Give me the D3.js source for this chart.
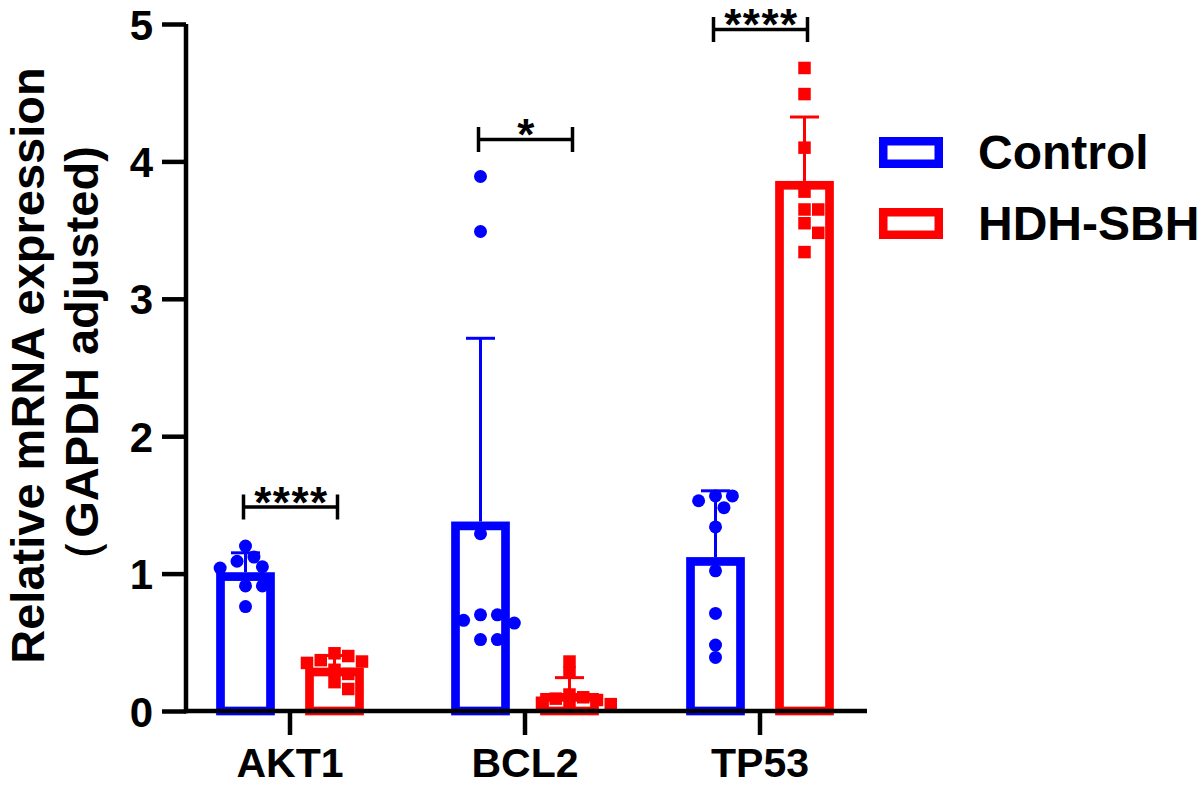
<!DOCTYPE html>
<html>
<head>
<meta charset="utf-8">
<script src="https://cdn.jsdelivr.net/npm/d3@7"></script>
<style>
  html, body { margin: 0; padding: 0; background: #fff; }
  svg { display: block; }
  text { font-family: "Liberation Sans", Arial, Helvetica, sans-serif; font-weight: bold; fill: #000; }
</style>
</head>
<body>
<svg id="chart" width="1203" height="787"></svg>
<script>
// ---------- data ----------
const categories = ["AKT1", "BCL2", "TP53"];
const seriesNames = ["Control", "HDH-SBH"];
const controlValues = [
  [1.20, 1.12, 1.09, 1.05, 1.04, 0.91, 0.91, 0.76],
  [3.89, 3.49, 1.29, 0.70, 0.70, 0.66, 0.64, 0.52, 0.52],
  [1.565, 1.565, 1.53, 1.48, 1.34, 1.02, 0.71, 0.48, 0.39]
];
const hdhValues = [
  [0.42, 0.40, 0.37, 0.36, 0.35, 0.30, 0.27, 0.21, 0.16],
  [0.36, 0.28, 0.12, 0.10, 0.09, 0.08, 0.06, 0.05, 0.04],
  [4.68, 4.49, 4.10, 3.78, 3.65, 3.65, 3.55, 3.48, 3.34]
];
const sigLabels = ["****", "*", "****"];
const sigLevels = [1.485, 4.16, 4.96];
const yTicks = [0, 1, 2, 3, 4, 5];
const yTitle = ["Relative mRNA expression", "（GAPDH adjusted)"];

// ---------- styles ----------
const colors = { "Control": "#0000ff", "HDH-SBH": "#ff0000" };
const barW = 58.7, barSW = 8.7;
const dotR = 6.5, sqSide = 12.5;

const svg = d3.select("#chart");

const y = d3.scaleLinear().domain([0, 5]).range([711, 24]);
const x = d3.scaleBand().domain(categories).range([172.5, 877.5]).padding(0);
const xSub = d3.scaleBand().domain(seriesNames).range([-89, 89]).padding(0);
const cx = (cat, s) => x(cat) + x.bandwidth() / 2 + xSub(s) + xSub.bandwidth() / 2;

const groups = [];
categories.forEach((c, i) => {
  groups.push({ cat: c, s: "Control", vals: controlValues[i], shape: "circle" });
  groups.push({ cat: c, s: "HDH-SBH", vals: hdhValues[i], shape: "square" });
});
groups.forEach(g => {
  g.mean = d3.mean(g.vals);
  g.sd = d3.deviation(g.vals);
  g.cx = cx(g.cat, g.s);
});

// bars
svg.append("g").selectAll("rect").data(groups).join("rect")
  .attr("x", d => d.cx - barW / 2 + barSW / 2)
  .attr("width", barW - barSW)
  .attr("y", d => y(d.mean) + barSW / 2)
  .attr("height", d => Math.max(0, y(0) - y(d.mean) - barSW / 2))
  .attr("fill", "none")
  .attr("stroke", d => colors[d.s])
  .attr("stroke-width", barSW);

// swarm placement of points
function swarm(vals, shape) {
  const size = shape === "circle" ? 2 * dotR : sqSide;
  const tol = shape === "circle" ? 0.95 : 0.8;
  const pts = vals.map(v => ({ v, py: y(v) })).sort((a, b) => a.py - b.py);
  const placed = [];
  const step = size * (shape === "circle" ? 0.65 : 0.55);
  pts.forEach(p => {
    const cands = [0];
    for (let k = 1; k < 8; k++) cands.push(k * step, -k * step);
    for (const dx of cands) {
      const ok = placed.every(q => shape === "circle"
        ? Math.hypot(q.dx - dx, q.py - p.py) >= size * tol
        : Math.max(Math.abs(q.dx - dx), Math.abs(q.py - p.py)) >= size * tol);
      if (ok) { p.dx = dx; break; }
    }
    if (p.dx === undefined) p.dx = 0;
    placed.push(p);
  });
  return placed;
}

const ptsG = svg.append("g");
groups.forEach(g => {
  const pts = swarm(g.vals, g.shape);
  if (g.shape === "circle") {
    ptsG.selectAll(null).data(pts).join("circle")
      .attr("cx", p => g.cx + p.dx).attr("cy", p => p.py).attr("r", dotR)
      .attr("fill", colors[g.s]);
  } else {
    ptsG.selectAll(null).data(pts).join("rect")
      .attr("x", p => g.cx + p.dx - sqSide / 2).attr("y", p => p.py - sqSide / 2)
      .attr("width", sqSide).attr("height", sqSide)
      .attr("fill", colors[g.s]);
  }
});

// error bars (upper only)
const eb = svg.append("g").attr("stroke-width", 3);
groups.forEach(g => {
  eb.append("line").attr("x1", g.cx).attr("x2", g.cx)
    .attr("y1", y(g.mean)).attr("y2", y(g.mean + g.sd)).attr("stroke", colors[g.s]);
  eb.append("line").attr("x1", g.cx - 14.5).attr("x2", g.cx + 14.5)
    .attr("y1", y(g.mean + g.sd)).attr("y2", y(g.mean + g.sd)).attr("stroke", colors[g.s]);
});

// y axis
const yAxis = svg.append("g").attr("transform", "translate(186,0)")
  .call(d3.axisLeft(y).tickValues(yTicks).tickFormat(d3.format("d")).tickSize(24).tickSizeOuter(0).tickPadding(9));
yAxis.select(".domain").attr("stroke", "#000").attr("stroke-width", 4.5).attr("d", `M0,${y(5)}V${y(0) + 2.25}`);
yAxis.selectAll(".tick line").attr("stroke", "#000").attr("stroke-width", 4.5);
yAxis.selectAll(".tick text").style("font-size", "42px").attr("dy", "0.36em");

// x axis
const xAxis = svg.append("g").attr("transform", `translate(0,${y(0)})`)
  .call(d3.axisBottom(x).tickSize(24).tickSizeOuter(0).tickPadding(10));
xAxis.select(".domain").remove();
xAxis.insert("line", ":first-child").attr("x1", 184).attr("x2", 867).attr("y1", 0).attr("y2", 0)
  .attr("stroke", "#000").attr("stroke-width", 4.5);
xAxis.selectAll(".tick line").attr("stroke", "#000").attr("stroke-width", 4.5);
xAxis.selectAll(".tick text").style("font-size", "41px").attr("dy", "0.77em");

// y title
const yt = svg.append("g").attr("transform", `translate(0,${(y(0) + y(5)) / 2 - 2}) rotate(-90)`);
yt.append("text").attr("x", 0).attr("y", 43.5).attr("text-anchor", "middle").style("font-size", "47px").text(yTitle[0]);
yt.append("text").attr("x", 0).attr("y", 98).attr("text-anchor", "middle").style("font-size", "47px").text(yTitle[1]);

// significance brackets
const sig = svg.append("g");
categories.forEach((c, i) => {
  const x1 = cx(c, "Control") - 2, x2 = cx(c, "HDH-SBH") + 3;
  const yy = y(sigLevels[i]);
  sig.append("path").attr("d", `M${x1},${yy - 12.5}V${yy + 12.5}M${x1},${yy}H${x2}M${x2},${yy - 12.5}V${yy + 12.5}`)
    .attr("fill", "none").attr("stroke", "#000").attr("stroke-width", 3.5);
  sig.append("text").attr("x", (x1 + x2) / 2 + 1).attr("y", yy + 11).attr("text-anchor", "middle")
    .style("font-size", "44px").style("letter-spacing", "1.5px").text(sigLabels[i]);
});

// legend
const leg = svg.append("g");
seriesNames.forEach((s, i) => {
  const ty = 152.5 + i * 71;
  leg.append("rect").attr("x", 879 + 4.25).attr("y", ty - 15.5 + 4.25).attr("width", 64 - 8.5).attr("height", 31 - 8.5)
    .attr("fill", "none").attr("stroke", colors[s]).attr("stroke-width", 8.5);
  leg.append("text").attr("x", 978).attr("y", ty + 16.5).style("font-size", "48px").text(s);
});
</script>
</body>
</html>
